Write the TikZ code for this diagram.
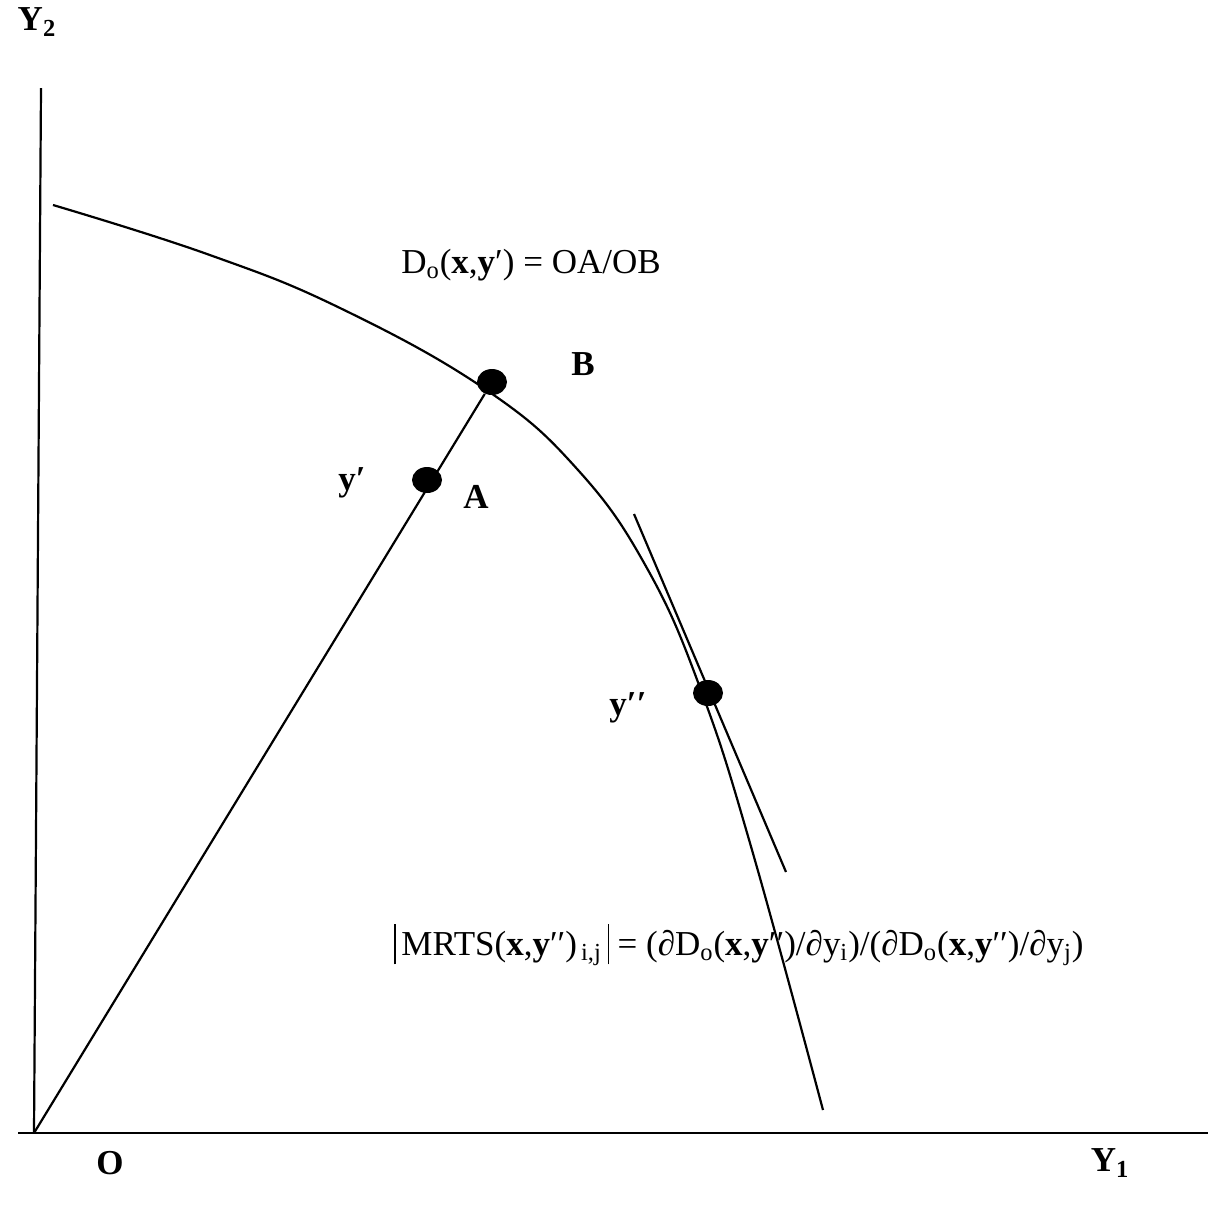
\documentclass[tikz,border=0pt]{standalone}
\usepackage{fontspec}
\setmainfont{Liberation Serif}
\usetikzlibrary{shapes.geometric}
\begin{document}
\begin{tikzpicture}[x=0.5pt,y=-0.5pt,
  ln/.style={line width=1.1pt},
  dot/.style={ellipse,fill=black,minimum width=15pt,minimum height=13pt,inner sep=0pt},
  lbl/.style={font=\fontsize{17.5}{21}\selectfont,inner sep=0pt},
  bl/.style={font=\fontsize{17.5}{21}\selectfont\bfseries,inner sep=0pt}]
\useasboundingbox (0,0) rectangle (1208,1206);
\coordinate (O) at (34,1133);
\coordinate (ytop) at (41,88);
\coordinate (xl) at (18,1133);
\coordinate (xr) at (1208,1133);
\draw[ln] (ytop) -- (O);
\draw[ln] (xl) -- (xr);
% frontier
\draw[ln] plot[smooth,tension=0.7] coordinates {(53,205) (207,254) (340,308) (485,389) (578,470) (648,570) (702,693) (752,850) (823,1110)};
% tangent
\coordinate (T1) at (634,514);
\coordinate (T2) at (786,872);
\draw[ln] (T1) -- (T2);
\node[dot] (B) at (492,382) {};
\node[dot] (A) at (427,480) {};
\node[dot] (Y2pt) at (708,693) {};
\draw[ln] (O) -- (B);
% labels
\node[bl] (ly2) at (37,22) {Y\textsubscript{2}};
\node[lbl] (lD) at (531,265) {D\textsubscript{o}(\textbf{x},\textbf{y}′) = OA/OB};
\node[bl] (lB) at (583,364) {B};
\node[bl] (lyp) at (352,483) {y′};
\node[bl] (lA) at (476,497) {A};
\node[bl] (lypp) at (628,708) {y′′};
\node[lbl,anchor=west] (lM) at (394,945) {\rule[-0.25em]{0.6pt}{1.15em}\,MRTS(\textbf{x},\textbf{y}′′)\textsubscript{\,i,j}\,\rule[-0.25em]{0.6pt}{1.15em} = (∂D\textsubscript{o}(\textbf{x},\textbf{y}′′)/∂y\textsubscript{i})/(∂D\textsubscript{o}(\textbf{x},\textbf{y}′′)/∂y\textsubscript{j})};
\node[bl] (lO) at (110,1163) {O};
\node[bl] (lY1) at (1110,1163) {Y\textsubscript{1}};
\end{tikzpicture}
\end{document}
